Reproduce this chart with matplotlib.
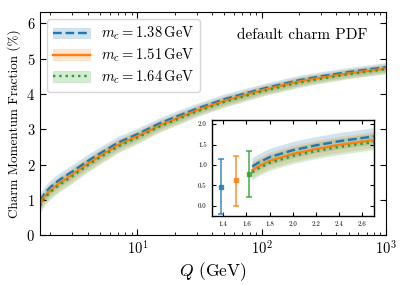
import matplotlib
matplotlib.use("Agg")
import matplotlib.pyplot as plt
import matplotlib.ticker as mticker
from matplotlib.patches import Patch
from matplotlib.lines import Line2D

plt.rcParams['font.family'] = 'serif'
plt.rcParams['font.serif'] = ['cmr10', 'DejaVu Serif']
plt.rcParams['mathtext.fontset'] = 'cm'
plt.rcParams['axes.formatter.use_mathtext'] = True
plt.rcParams['axes.unicode_minus'] = False

# ---- data ----
Q = [1.65, 1.7, 1.8, 2.0, 2.2, 2.4, 2.7, 3.0, 4.0, 5.0, 7.0, 10, 15, 20, 30, 50, 100, 200, 300, 500, 1000]
frac_138 = [0.96, 1.05, 1.19, 1.36, 1.48, 1.58, 1.70, 1.80, 2.10, 2.31, 2.62, 2.86, 3.16, 3.34, 3.58, 3.85, 4.14, 4.39, 4.50, 4.62, 4.76]
frac_151 = [0.87, 0.96, 1.10, 1.27, 1.39, 1.49, 1.61, 1.72, 2.02, 2.24, 2.55, 2.80, 3.10, 3.28, 3.53, 3.80, 4.10, 4.35, 4.46, 4.58, 4.72]
frac_164 = [0.82, 0.91, 1.05, 1.22, 1.34, 1.44, 1.56, 1.67, 1.98, 2.20, 2.51, 2.76, 3.07, 3.25, 3.50, 3.77, 4.07, 4.32, 4.43, 4.56, 4.70]
band_halfwidth = [0.20, 0.20, 0.20, 0.20, 0.20, 0.20, 0.20, 0.20, 0.19, 0.19, 0.18, 0.17, 0.16, 0.16, 0.15, 0.15, 0.14, 0.14, 0.13, 0.13, 0.13]

labels = [r'$m_c = 1.38\,\mathrm{GeV}$', r'$m_c = 1.51\,\mathrm{GeV}$', r'$m_c = 1.64\,\mathrm{GeV}$']
colors = ['#1f77b4', '#ff7f0e', '#2ca02c']
styles = ['--', '-', ':']

# inset error bar points
pt_x = [1.38, 1.51, 1.62]
pt_y = [0.47, 0.62, 0.77]
pt_lo = [-0.20, 0.00, 0.21]
pt_hi = [1.14, 1.23, 1.33]

series = [frac_138, frac_151, frac_164]

fig = plt.figure(figsize=(4.07, 2.85), dpi=100)
ax = fig.add_axes([0.0983, 0.175, 0.8500, 0.784])

handles = []
for ys, c, ls, lab in zip(series, colors, styles, labels):
    lo = [y - h for y, h in zip(ys, band_halfwidth)]
    hi = [y + h for y, h in zip(ys, band_halfwidth)]
    ax.fill_between(Q, lo, hi, color=c, alpha=0.2, lw=0)
    ax.plot(Q, ys, color=c, ls=ls, lw=1.7)
    handles.append((Patch(facecolor=c, alpha=0.2, edgecolor=c, lw=0.5),
                    Line2D([], [], color=c, ls=ls, lw=1.7)))

ax.set_xscale('log')
ax.set_xlim(1.65, 1000)
ax.set_ylim(0, 6.33)
ax.set_yticks([0, 1, 2, 3, 4, 5, 6])
ax.tick_params(which='both', direction='in', top=True, right=True, labelsize=10.5)
ax.tick_params(which='major', length=4)
ax.tick_params(which='minor', length=2)
ax.set_xlabel(r'$Q$ (GeV)', fontsize=12.5, labelpad=2)
ax.set_ylabel('Charm Momentum Fraction (%)', fontsize=9.5, labelpad=4)
ax.legend(handles, labels, loc='upper left', fontsize=10.5, handlelength=2.5,
          borderaxespad=0.5, labelspacing=0.3)
ax.text(0.945, 0.897, 'default charm PDF', transform=ax.transAxes, ha='right',
        va='center', fontsize=11)

# inset
ins = fig.add_axes([0.520, 0.242, 0.399, 0.337])
for ys, c, ls in zip(series, colors, styles):
    lo = [y - h for y, h in zip(ys, band_halfwidth)]
    hi = [y + h for y, h in zip(ys, band_halfwidth)]
    ins.fill_between(Q, lo, hi, color=c, alpha=0.2, lw=0)
    ins.plot(Q, ys, color=c, ls=ls, lw=1.7)
for x, y, l, h, c in zip(pt_x, pt_y, pt_lo, pt_hi, colors):
    ins.errorbar([x], [y], yerr=[[y - l], [h - y]], fmt='s', color=c, ms=2.5,
                 capsize=2.5, elinewidth=1.2, capthick=1.2, alpha=0.8)
ins.set_xlim(1.3, 2.7)
ins.set_ylim(-0.25, 2.1)
ins.set_xticks([1.4, 1.6, 1.8, 2.0, 2.2, 2.4, 2.6])
ins.set_yticks([0.0, 0.5, 1.0, 1.5, 2.0])
ins.tick_params(direction='in', top=True, right=True, labelsize=5, length=3)
ins.xaxis.set_major_formatter(mticker.FormatStrFormatter('%.1f'))
ins.yaxis.set_major_formatter(mticker.FormatStrFormatter('%.1f'))
for s in ins.spines.values():
    s.set_linewidth(1.0)

fig.savefig('out.png', dpi=100)
